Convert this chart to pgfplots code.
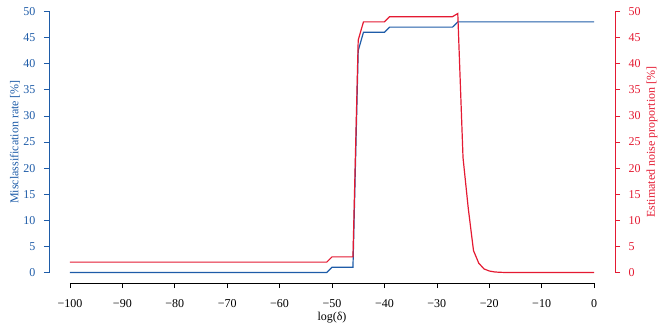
\documentclass[border=0pt]{standalone}
\usepackage{fontspec}
\setmainfont{Liberation Serif}
\usepackage{pgfplots}
\pgfplotsset{compat=1.18}
\definecolor{misblue}{RGB}{30,92,168}
\definecolor{noisered}{RGB}{228,26,50}
\begin{document}
\begin{tikzpicture}
\useasboundingbox (-49pt,-49pt) rectangle (615pt,283pt);
\pgfplotsset{
  base/.style={
    scale only axis, width=566pt, height=282pt,
    xmin=-104, xmax=4, ymin=-2, ymax=52,
    at={(0,0)}, anchor=south west,
    axis line style={draw=none},
    tick align=outside, major tick length=5pt,
    clip=false,
    tick label style={font=\fontsize{12}{14}\selectfont},
  }
}
% x axis
\begin{axis}[base, axis x line*=bottom, axis y line*=left,
  ytick=\empty,
  xtick={-100,-90,...,0},
  xticklabels={−100,−90,−80,−70,−60,−50,−40,−30,−20,−10,0},
  xticklabel style={yshift=-8pt},
  tick style={black, line width=0.6pt}]
\draw[line width=0.6pt] (axis cs:-100,-2) -- (axis cs:0,-2);
\node[font=\fontsize{12}{14}\selectfont] at ([yshift=-35pt]axis cs:-50,-2) {log(δ)};
\end{axis}
% left axis: misclassification rate
\begin{axis}[base, axis x line*=bottom, axis y line*=left,
  xtick=\empty,
  ytick={0,5,...,50},
  yticklabels={0,5,10,15,20,25,30,35,40,45,50},
  yticklabel style={text=misblue, xshift=-5pt},
  tick style={misblue, line width=0.6pt}]
\draw[misblue, line width=0.6pt] (axis cs:-104,0) -- (axis cs:-104,50);
\node[rotate=90, text=misblue, font=\fontsize{12}{14}\selectfont] at ([xshift=-34pt]axis cs:-104,25) {Misclassification rate [\%]};
\addplot[misblue, line width=1.2pt] coordinates {
  (-100,0) (-51,0) (-50,1) (-46,1) (-45,42.5) (-44,46) (-40,46)
  (-39,47) (-27,47) (-26,48) (0,48)};
\end{axis}
% right axis: estimated noise proportion
\begin{axis}[base, axis x line*=bottom, axis y line*=right,
  xtick=\empty,
  ytick={0,5,...,50},
  yticklabels={0,5,10,15,20,25,30,35,40,45,50},
  yticklabel style={text=noisered, xshift=5pt},
  tick style={noisered, line width=0.6pt}]
\draw[noisered, line width=0.6pt] (axis cs:4,0) -- (axis cs:4,50);
\node[rotate=90, text=noisered, font=\fontsize{12}{14}\selectfont] at ([xshift=37pt]axis cs:4,25) {Estimated noise proportion [\%]};
\addplot[noisered, line width=1.2pt] coordinates {
  (-100,2) (-51,2) (-50,3) (-46,3) (-45,44.5) (-44,48) (-40,48)
  (-39,49) (-27,49) (-26,49.6) (-25,22) (-24,12.3) (-23,4.2)
  (-22,1.8) (-21,0.7) (-20,0.3) (-19,0.12) (-18,0.05) (-17,0.02)
  (-16,0) (0,0)};
\end{axis}
\end{tikzpicture}
\end{document}
